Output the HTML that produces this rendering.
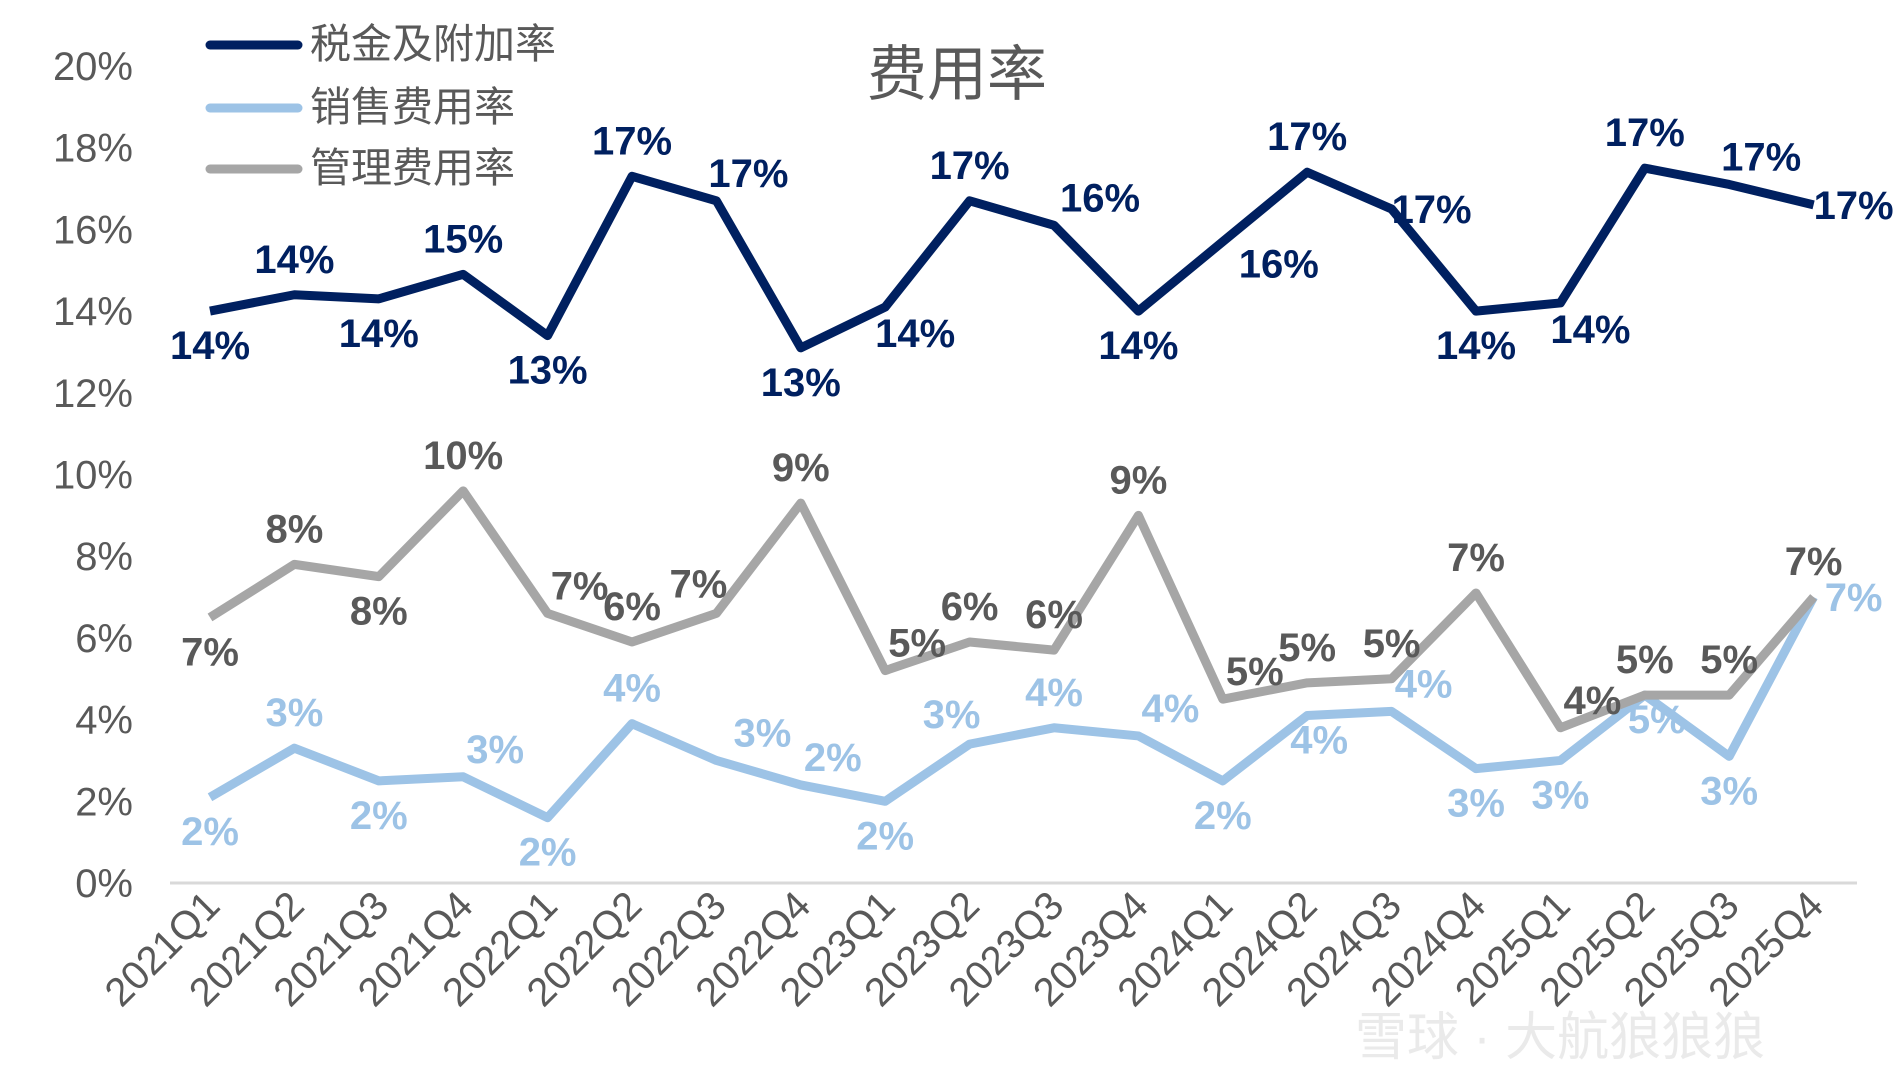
<!DOCTYPE html>
<html><head><meta charset="utf-8"><style>
body{margin:0;background:#fff;}
svg{display:block;font-family:"Liberation Sans","Noto Sans CJK SC",sans-serif;}
</style></head><body>
<svg id="chart" width="1903" height="1084" viewBox="0 0 1903 1084">
<text x="957" y="95" font-size="60" fill="#595959" text-anchor="middle">费用率</text>
<g id="yaxis"></g>
<line x1="170" y1="883" x2="1857" y2="883" stroke="#d9d9d9" stroke-width="3"/>
<g id="xaxis"></g>
<g id="series"></g>
<g>
<g><line x1="210" y1="45" x2="298" y2="45" stroke="#002060" stroke-width="9" stroke-linecap="round"/><text x="310" y="58" font-size="41" fill="#595959">税金及附加率</text></g>
<g><line x1="210" y1="108" x2="298" y2="108" stroke="#9dc3e6" stroke-width="9" stroke-linecap="round"/><text x="310" y="121" font-size="41" fill="#595959">销售费用率</text></g>
<g><line x1="210" y1="169" x2="298" y2="169" stroke="#a6a6a6" stroke-width="9" stroke-linecap="round"/><text x="310" y="182" font-size="41" fill="#595959">管理费用率</text></g>
</g>
<text x="1560" y="1055" font-size="52" fill="#e6e6e6" text-anchor="middle" opacity="0.8">雪球 · 大航狼狼狼</text>
</svg>
<script>
const categories=["2021Q1","2021Q2","2021Q3","2021Q4","2022Q1","2022Q2","2022Q3","2022Q4","2023Q1","2023Q2","2023Q3","2023Q4","2024Q1","2024Q2","2024Q3","2024Q4","2025Q1","2025Q2","2025Q3","2025Q4"];
const taxValues=[14.0,14.4,14.3,14.9,13.4,17.3,16.7,13.1,14.1,16.7,16.1,14.0,15.7,17.4,16.5,14.0,14.2,17.5,17.1,16.6];
const adminValues=[6.5,7.8,7.5,9.6,6.6,5.9,6.6,9.3,5.2,5.9,5.7,9.0,4.5,4.9,5.0,7.1,3.8,4.6,4.6,7.0];
const salesValues=[2.1,3.3,2.5,2.6,1.6,3.9,3.0,2.4,2.0,3.4,3.8,3.6,2.5,4.1,4.2,2.8,3.0,4.6,3.1,7.0];
const taxLabels=["14%","14%","14%","15%","13%","17%","17%","13%","14%","17%","16%","14%","16%","17%","17%","14%","14%","17%","17%","17%"];
const adminLabels=["7%","8%","8%","10%","7%","6%","7%","9%","5%","6%","6%","9%","5%","5%","5%","7%","4%","5%","5%","7%"];
const salesLabels=["2%","3%","2%","3%","2%","4%","3%","2%","2%","3%","4%","4%","2%","4%","4%","3%","3%","5%","3%","7%"];
const yTicks=[0,2,4,6,8,10,12,14,16,18,20];
const taxLabelPos=["b","a","b","a","b","a","ar","b","br","a","ar2","b","br2","a","r","b","br","a","ar","r"];
const adminLabelPos=["b","a","b","a","ar","a","al","a","ar","a","a","a","ar","a","a","a","ar","a","a","a"];
const salesLabelPos=["b","a","b","ar","b","a","ar2","ar","b","al","a","ar","b","bs","ar","b","b","bs","b","r"];
const NS="http://www.w3.org/2000/svg";
const X0=210,STEP=84.4,Y0=883,PER=40.85;
const xs=i=>X0+i*STEP, ys=v=>Y0-v*PER;
function mk(tag,attrs,parent){const e=document.createElementNS(NS,tag);for(const k in attrs)e.setAttribute(k,attrs[k]);parent.appendChild(e);return e;}
const yg=document.getElementById('yaxis');
yTicks.forEach(t=>{const e=mk('text',{x:133,y:ys(t)+14,'font-size':40,fill:'#595959','text-anchor':'end'},yg);e.textContent=t+'%';

});
const xg=document.getElementById('xaxis');
categories.forEach((c,i)=>{const x=xs(i)+12,y=908;const e=mk('text',{x:x,y:y,'font-size':40,fill:'#595959','text-anchor':'end',transform:`rotate(-45 ${x} ${y})`},xg);e.textContent=c;

});
const sg=document.getElementById('series');
function offs(p){return {a:[0,-22],b:[0,48],ar:[32,-14],ar2:[46,-14],al:[-18,-16],br:[30,40],br2:[56,36],r:[40,14],bs:[12,38]}[p];}
function drawSeries(vals,labels,color,labelColor,pos,name){
  const pts=vals.map((v,i)=>xs(i)+','+ys(v)).join(' ');
  const pl=mk('polyline',{points:pts,fill:'none',stroke:color,'stroke-width':9,'stroke-linejoin':'round'},sg);
  
  
  vals.forEach((v,i)=>{const o=offs(pos[i]);const t=mk('text',{x:xs(i)+o[0],y:ys(v)+o[1],'font-size':40,'font-weight':'bold',fill:labelColor,'text-anchor':'middle'},sg);t.textContent=labels[i];
  
  });
}
drawSeries(salesValues,salesLabels,'#9dc3e6','#9dc3e6',salesLabelPos,'sales-ratio');
drawSeries(adminValues,adminLabels,'#a6a6a6','#595959',adminLabelPos,'admin-ratio');
drawSeries(taxValues,taxLabels,'#002060','#002060',taxLabelPos,'tax-ratio');
</script>
</body></html>
